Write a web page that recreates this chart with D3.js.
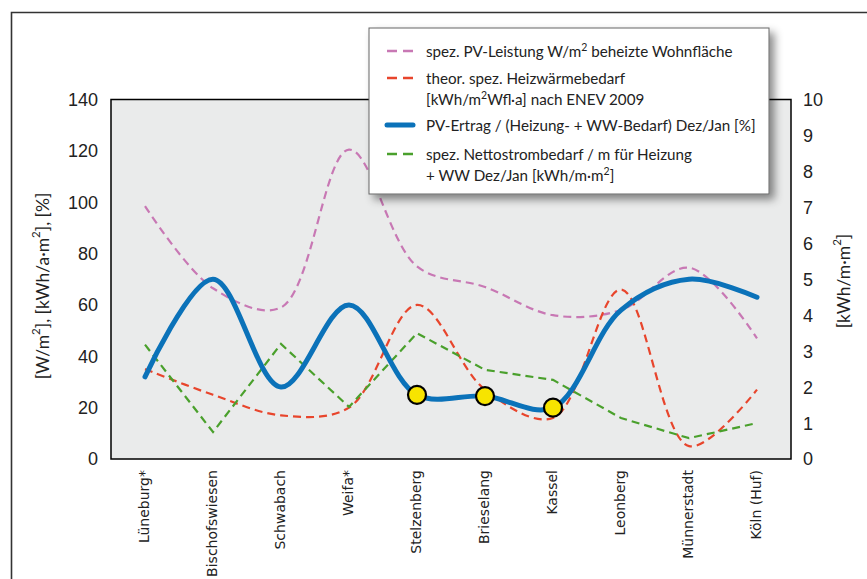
<!DOCTYPE html>
<html><head><meta charset="utf-8">
<script src="https://cdn.jsdelivr.net/npm/d3@7"></script>
<style>body{margin:0;background:#fff}svg{display:block}</style>
</head><body><svg id="c" width="867" height="579"></svg>
<script>
const categories = ["Lüneburg*","Bischofswiesen","Schwabach","Weifa*","Stelzenberg","Brieselang","Kassel","Leonberg","Münnerstadt","Köln (Huf)"];
const pvLeistung = [98.5, 66.5, 59, 120.5, 75, 67, 56, 58, 74.5, 47];
const heizwaerme = [35, 25, 17, 20, 60, 27, 16, 66, 5, 27];
const pvErtrag = [32, 70, 28, 60, 25, 24.5, 20, 58, 70, 63];
const nettostrom = [3.18, 0.75, 3.2, 1.45, 3.5, 2.48, 2.2, 1.14, 0.58, 1.0];
const leftTicks = [0, 20, 40, 60, 80, 100, 120, 140];
const rightTicks = [0, 1, 2, 3, 4, 5, 6, 7, 8, 9, 10];
const highlighted = ["Stelzenberg", "Brieselang", "Kassel"];

const svg = d3.select("#c");
const L = 111, R = 791, T = 99.5, B = 459;
const x = d3.scalePoint().domain(categories).range([L, R]).padding(0.5);
const yL = d3.scaleLinear().domain([0, 140]).range([B, T]);
const yR = d3.scaleLinear().domain([0, 10]).range([B, T]);

const defs = svg.append("defs");
const f = defs.append("filter").attr("id", "sh").attr("x", "-10%").attr("y", "-10%").attr("width", "130%").attr("height", "140%");
f.append("feDropShadow").attr("dx", 5).attr("dy", 5).attr("stdDeviation", 4).attr("flood-color", "#000").attr("flood-opacity", 0.45);

// outer frame
svg.append("path").attr("d", "M11.5,579 V12.5 H867").attr("fill", "none").attr("stroke", "#333").attr("stroke-width", 1.6);

// plot area
svg.append("rect").attr("x", L).attr("y", T).attr("width", R - L).attr("height", B - T)
  .attr("fill", "#eaebeb").attr("stroke", "#000").attr("stroke-width", 1.5);

const font = "Lato, 'Open Sans', sans-serif";
// left ticks
svg.append("g").selectAll("text").data(leftTicks).join("text")
  .attr("x", 98).attr("y", d => yL(d)).attr("dy", "0.36em").attr("text-anchor", "end")
  .attr("font-family", "'Liberation Sans', Arial, sans-serif").attr("font-size", 18).attr("fill", "#222").text(d => d);
// right ticks
svg.append("g").selectAll("text").data(rightTicks).join("text")
  .attr("x", 803).attr("y", d => yR(d)).attr("dy", "0.36em").attr("text-anchor", "start")
  .attr("font-family", "'Liberation Sans', Arial, sans-serif").attr("font-size", 18).attr("fill", "#222").text(d => d);

// axis titles
const lt = svg.append("text").attr("transform", "translate(42,286) rotate(-90)").attr("text-anchor", "middle")
  .attr("dominant-baseline", "central").attr("font-family", font).attr("font-size", 17.5).attr("fill", "#222");
lt.append("tspan").text("[W/m");
lt.append("tspan").attr("font-size", 11.5).attr("baseline-shift", "super").text("2");
lt.append("tspan").text("], [kWh/a·m");
lt.append("tspan").attr("font-size", 11.5).attr("baseline-shift", "super").text("2");
lt.append("tspan").text("], [%]");
const rt = svg.append("text").attr("transform", "translate(843,281) rotate(-90)").attr("text-anchor", "middle")
  .attr("dominant-baseline", "central").attr("font-family", font).attr("font-size", 17.5).attr("fill", "#222");
rt.append("tspan").text("[kWh/m·m");
rt.append("tspan").attr("font-size", 11.5).attr("baseline-shift", "super").text("2");
rt.append("tspan").text("]");

// category labels
svg.append("g").selectAll("text").data(categories).join("text")
  .attr("transform", d => `translate(${x(d) - 1},470) rotate(-90)`).attr("dy", "0.35em")
  .attr("text-anchor", "end").attr("font-family", "'DejaVu Sans', Verdana, sans-serif").attr("font-size", 14)
  .attr("fill", "#222").text(d => d);

const smooth = d3.curveCatmullRom.alpha(0.5);
const lineL = d3.line().x((d, i) => x(categories[i])).y(d => yL(d)).curve(smooth);
const lineR = d3.line().x((d, i) => x(categories[i])).y(d => yR(d)).curve(d3.curveLinear);

const pink = "#c878b4", red = "#e8452c", blue = "#0b72b9", green = "#4aa02c";
svg.append("path").attr("d", lineL(pvLeistung)).attr("fill", "none").attr("stroke", pink).attr("stroke-width", 2.2).attr("stroke-dasharray", "8,5");
svg.append("path").attr("d", lineL(heizwaerme)).attr("fill", "none").attr("stroke", red).attr("stroke-width", 2.2).attr("stroke-dasharray", "8,5");
svg.append("path").attr("d", lineR(nettostrom)).attr("fill", "none").attr("stroke", green).attr("stroke-width", 2.2).attr("stroke-dasharray", "8,5");
svg.append("path").attr("d", lineL(pvErtrag)).attr("fill", "none").attr("stroke", blue).attr("stroke-width", 5).attr("stroke-linecap", "round");

svg.append("g").selectAll("circle").data(categories.map((c, i) => ({c, v: pvErtrag[i]})).filter(d => highlighted.includes(d.c)))
  .join("circle").attr("cx", d => x(d.c)).attr("cy", d => yL(d.v)).attr("r", 9)
  .attr("fill", "#f7e400").attr("stroke", "#000").attr("stroke-width", 2.2);

// legend
const lg = svg.append("g");
lg.append("rect").attr("x", 369).attr("y", 28).attr("width", 400).attr("height", 166)
  .attr("fill", "#fff").attr("stroke", "#666").attr("stroke-width", 1).attr("filter", "url(#sh)");
const items = [
  {color: pink, w: 2.5, dash: "10,6", y: 51, lines: [[["spez. PV-Leistung W/m"], ["2", 1], [" beheizte Wohnfläche"]]]},
  {color: red, w: 2.5, dash: "10,6", y: 78, lines: [[["theor. spez. Heizwärmebedarf"]], [["[kWh/m"], ["2", 1], ["Wfl·a] nach ENEV 2009"]]]},
  {color: blue, w: 5, dash: null, y: 125, lines: [[["PV-Ertrag / (Heizung- + WW-Bedarf) Dez/Jan [%]"]]]},
  {color: green, w: 2.5, dash: "10,6", y: 154, lines: [[["spez. Nettostrombedarf / m für Heizung"]], [["+ WW Dez/Jan [kWh/m·m"], ["2", 1], ["]"]]]}
];
items.forEach(it => {
  lg.append("line").attr("x1", 387).attr("x2", 413).attr("y1", it.y).attr("y2", it.y)
    .attr("stroke", it.color).attr("stroke-width", it.w).attr("stroke-dasharray", it.dash)
    .attr("stroke-linecap", it.dash ? "butt" : "round");
  it.lines.forEach((ln, j) => {
    const t = lg.append("text").attr("x", 426).attr("y", it.y + 5.5 + j * 21)
      .attr("font-family", font).attr("font-size", 15.2).attr("fill", "#222");
    ln.forEach(p => {
      const s = t.append("tspan").text(p[0]);
      if (p[1]) s.attr("font-size", 10.5).attr("baseline-shift", "super");
    });
  });
});
</script></body></html>
